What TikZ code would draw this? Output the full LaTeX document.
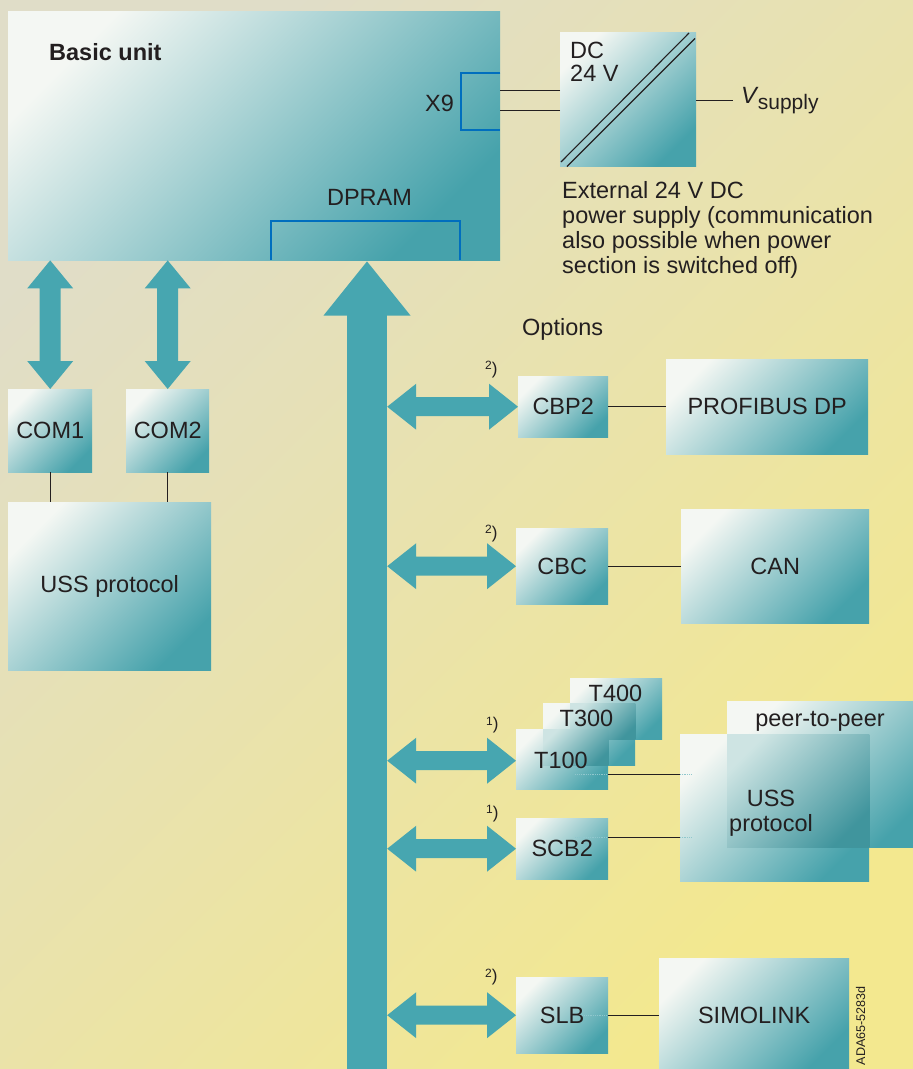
\documentclass[tikz,border=0pt]{standalone}
\usepackage{fontspec}
\setmainfont{Liberation Sans}
\usetikzlibrary{calc}
\definecolor{bgA}{RGB}{224,221,200}
\definecolor{bgB}{RGB}{243,232,143}
\definecolor{boxL}{RGB}{244,247,243}
\definecolor{boxD}{RGB}{70,162,171}
\definecolor{arr}{RGB}{71,166,176}
\definecolor{blu}{RGB}{0,110,190}
\definecolor{ink}{RGB}{35,31,32}
\newcommand\vdarrow[2]{%
  \fill[arr] let \p1=#1, \p2=#2 in
  (\x1,\y1) -- (\x1+23pt,\y1-28pt) -- (\x1+10.5pt,\y1-28pt) -- (\x1+10.5pt,\y2+28pt)
  -- (\x1+23pt,\y2+28pt) -- (\x1,\y2) -- (\x1-23pt,\y2+28pt) -- (\x1-10.5pt,\y2+28pt)
  -- (\x1-10.5pt,\y1-28pt) -- (\x1-23pt,\y1-28pt) -- cycle;}
\newcommand\hdarrow[2]{%
  \fill[arr] let \p1=#1, \p2=#2 in
  (\x1,\y2) -- (\x1+29pt,\y2+23pt) -- (\x1+29pt,\y2+9.5pt) -- (\x2-29pt,\y2+9.5pt)
  -- (\x2-29pt,\y2+23pt) -- (\x2,\y2) -- (\x2-29pt,\y2-23pt) -- (\x2-29pt,\y2-9.5pt)
  -- (\x1+29pt,\y2-9.5pt) -- (\x1+29pt,\y2-23pt) -- cycle;}
\newcommand\fn{\fontsize{23.5}{25}\selectfont}
\newcommand\note[1]{{\fontsize{12}{12}\selectfont\raisebox{4.5pt}{#1}}{\fontsize{17}{17}\selectfont)}}
\begin{document}
\begin{tikzpicture}[x=1pt,y=-1pt,
  every node/.style={text=ink},
  box/.style={top color=boxL, bottom color=boxD, shading=axis, shading angle=45,
    inner sep=0pt, anchor=north west, font=\fn},
  overlap/.style={top color=boxL!78!boxD, bottom color=boxD!92!black, shading=axis, shading angle=45},
  conn/.style={draw=ink, line width=1.2pt},
  stub/.style={draw=boxD!60!white, line width=0.8pt, densely dotted},
  bracket/.style={draw=blu, line width=2.6pt},
  txt/.style={inner sep=0pt, font=\fn}]
\useasboundingbox (0,0) rectangle (913,1069);
\shade[top color=bgA, bottom color=bgB, shading angle=45] (0,0) rectangle (913,1069);

% basic unit
\node[box, minimum width=492pt, minimum height=249pt] (basic) at (8,11) {};
\node[txt, anchor=base west, font=\fn\bfseries] (bu) at (49,60) {Basic unit};
\draw[bracket] (basic.east |- 0,73) -- (461,73) -- (461,130) -- (basic.east |- 0,130);
\node[txt, anchor=base] (x9) at (439.5,111.7) {X9};
\draw[bracket] (271,260) -- (271,221) -- (460,221) -- (460,260);
\node[txt, anchor=base] (dpram) at (369.5,205.7) {DPRAM};

% DC supply
\node[box, minimum width=136pt, minimum height=134pt] (dc) at (560,32) {};
\draw[ink, line width=1.1pt] (561,162) -- (689,33);
\draw[ink, line width=1.1pt] (567,166.5) -- (695,38.5);
\node[txt, anchor=north west, align=left, font=\fontsize{23.5}{23}\selectfont] (dctext) at (570,42) {DC\\24 V};
\draw[conn] ([yshift=9pt]dc.west) coordinate (p1) -- (p1 -| basic.east);
\draw[conn] ([yshift=-11.5pt]dc.west) coordinate (p2) -- (p2 -| basic.east);
\node[txt, anchor=base west] (vs) at (741,103.3) {{\itshape V}\kern1pt\raisebox{-6pt}{\fontsize{21}{21}\selectfont supply}};
\draw[conn] ([yshift=-1.5pt]dc.east) coordinate (p3) -- ([xshift=-8pt]p3 -| vs.west);
\node[txt, anchor=north west, align=left] (cap) at (562,181)
  {External 24 V DC\\power supply (communication\\also possible when power\\section is switched off)};

% COM side
\node[box, minimum width=84pt, minimum height=83pt] (com1) at (8,389) {COM1};
\node[box, minimum width=83pt, minimum height=83pt] (com2) at (126,389) {COM2};
\node[box, minimum width=203pt, minimum height=168pt] (ussl) at (8,502) {USS protocol};
\vdarrow{(com1.north |- basic.south)}{(com1.north)}
\vdarrow{(com2.north |- basic.south)}{(com2.north)}
\draw[conn] (com1.south) -- (com1.south |- ussl.north);
\draw[conn] (com2.south) -- (com2.south |- ussl.north);

% bus
\node[fill=arr, inner sep=0pt, minimum width=40pt, minimum height=760pt, anchor=north] (bus) at (367,315) {};
\fill[arr] let \p1=(bus.north), \p2=(basic.south) in
  (\x1-43.5pt,\y1-0.5pt) -- (\x1,\y2-1pt) -- (\x1+43.5pt,\y1-0.5pt) -- cycle;
\node[txt, anchor=base west] (opt) at (522,335) {Options};

% options
\node[box, minimum width=90pt, minimum height=61pt] (cbp2) at (518,376) {CBP2};
\node[box, minimum width=202pt, minimum height=95pt] (prof) at (666,359) {PROFIBUS DP};
\node[box, minimum width=92pt, minimum height=76pt] (cbc) at (516,528) {CBC};
\node[box, minimum width=188pt, minimum height=114pt] (can) at (681,509) {CAN};
\node[box, minimum width=92pt, minimum height=61pt] (t400) at (570,678) {};
\node[txt, anchor=base] at (615.5,701) {T400};
\node[box, minimum width=92pt, minimum height=62pt] (t300) at (543,703) {};
\shade[overlap] (t400.south west) rectangle (t300.north east);
\node[txt, anchor=base] at (586.5,726) {T300};
\node[box, minimum width=92pt, minimum height=60pt] (t100) at (516,729) {};
\shade[overlap] (t300.south west) rectangle (t100.north east);
\node[txt, anchor=base] at (561,768) {T100};
\node[box, minimum width=200pt, minimum height=146pt] (peer) at (727,701) {};
\node[txt, anchor=base] at (820,726) {peer-to-peer};
\node[box, minimum width=189pt, minimum height=147pt] (ussr) at (680,734) {};
\shade[overlap] (peer.west |- ussr.north) rectangle (ussr.east |- peer.south);
\node[txt, anchor=north, align=center] at (771,790) {USS\\protocol};
\node[box, minimum width=92pt, minimum height=61pt] (scb2) at (516,818) {SCB2};
\node[box, minimum width=92pt, minimum height=76pt] (slb) at (516,977) {SLB};
\node[box, minimum width=190pt, minimum height=114pt] (simo) at (659,958) {SIMOLINK};

\hdarrow{(bus.east)}{(cbp2.west)}
\hdarrow{(bus.east)}{(cbc.west)}
\hdarrow{(bus.east)}{([yshift=-1.5pt]t100.west)}
\hdarrow{(bus.east)}{(scb2.west)}
\hdarrow{(bus.east)}{(slb.west)}

\draw[conn] (cbp2.east) -- (cbp2.east -| prof.west);
\draw[conn] (cbc.east) -- (cbc.east -| can.west);
\draw[stub] ([yshift=-15pt,xshift=-33pt]t100.east) -- ([yshift=-15pt]t100.east);
\draw[conn] ([yshift=-15pt]t100.east) coordinate (q1) -- (q1 -| ussr.west);
\draw[stub] (q1 -| ussr.west) -- ([xshift=11pt]q1 -| ussr.west);
\draw[stub] ([yshift=11pt,xshift=-33pt]scb2.east) -- ([yshift=11pt]scb2.east);
\draw[conn] ([yshift=11pt]scb2.east) coordinate (q2) -- (q2 -| ussr.west);
\draw[stub] (q2 -| ussr.west) -- ([xshift=11pt]q2 -| ussr.west);
\draw[stub] ([xshift=-26pt]slb.east) -- (slb.east);
\draw[conn] (slb.east) -- (slb.east -| simo.west);

\node[txt, anchor=base west] (n1) at (485,374.4) {\note{2}};
\node[txt, anchor=base west] (n2) at (485,538) {\note{2}};
\node[txt, anchor=base west] (n3) at (486,729.7) {\note{1}};
\node[txt, anchor=base west] (n4) at (486,818) {\note{1}};
\node[txt, anchor=base west] (n5) at (485,981.5) {\note{2}};

\node[txt, rotate=90, anchor=base east, font=\fontsize{12.6}{13}\selectfont] (ada) at (865,986) {ADA65-5283d};
\end{tikzpicture}
\end{document}
